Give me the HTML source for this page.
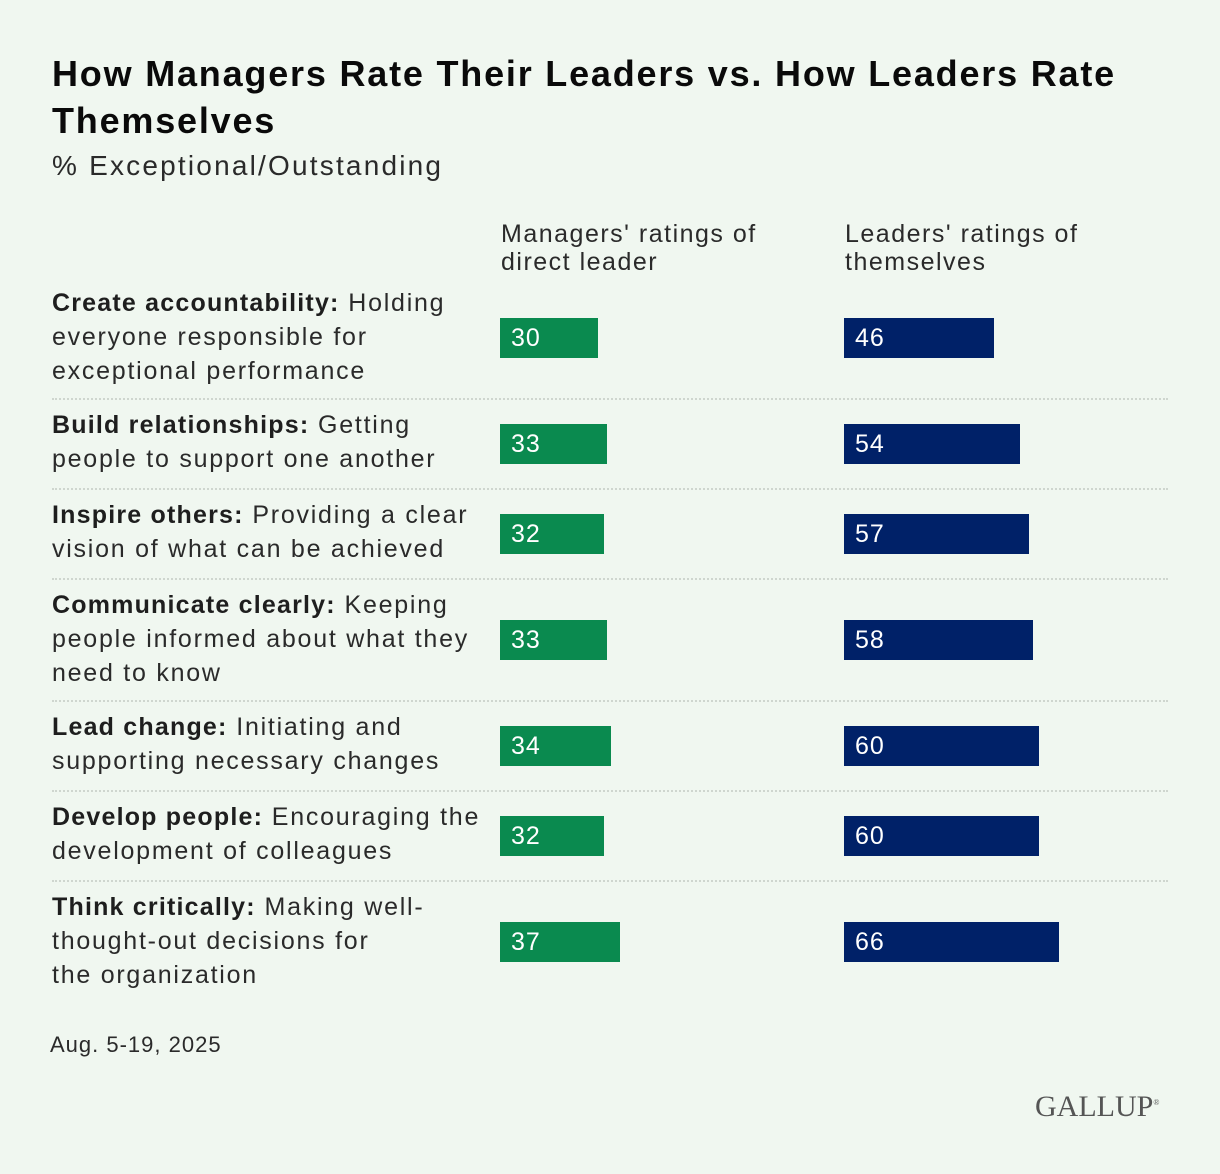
<!DOCTYPE html>
<html><head><meta charset="utf-8">
<style>
body{margin:0;background:#f0f7f0;}
#root{position:relative;width:1220px;height:1174px;background:#f0f7f0;font-family:"Liberation Sans",sans-serif;color:#222;overflow:hidden}
.t{position:absolute;white-space:nowrap}
#title{left:52px;top:50px;font-size:36px;letter-spacing:1.8px;font-weight:bold;line-height:47px;color:#0a0a0a}
#sub{left:52px;top:150px;font-size:28px;letter-spacing:2.2px;color:#2a2a2a}
.hdr{top:220px;font-size:25px;letter-spacing:1.5px;line-height:28px;color:#2a2a2a}
.lbl{left:52px;font-size:25px;letter-spacing:1.75px;line-height:34px;color:#2a2a2a}
.lbl b{color:#1e1e1e;letter-spacing:1.2px}
.sep{position:absolute;left:52px;width:1116px;border-top:2px dotted #cfd6cf;height:0}
.bar{position:absolute;height:40px}
.bar span{position:absolute;left:11px;top:6px;font-size:25px;letter-spacing:1px;color:#fff}
</style></head><body>
<div id="root">
<div class="t" id="title">How Managers Rate Their Leaders vs. How Leaders Rate<br>Themselves</div>
<div class="t" id="sub">% Exceptional/Outstanding</div>
<div class="t hdr" style="left:501px">Managers' ratings of<br>direct leader</div>
<div class="t hdr" style="left:845px">Leaders' ratings of<br>themselves</div>
<div class="t" style="left:50px;top:1032px;font-size:22px;letter-spacing:1px;color:#2a2a2a">Aug. 5-19, 2025</div>
<div class="t" style="left:1035px;top:1090px;font-family:'Liberation Serif',serif;font-size:30px;color:#555">GALLUP<sup style="font-size:8px">®</sup></div>
<div id="rows"></div>
</div>
<script>
const categories=["Create accountability","Build relationships","Inspire others","Communicate clearly","Lead change","Develop people","Think critically"];
const descriptions=[["Create accountability:"," Holding","everyone responsible for","exceptional performance"],["Build relationships:"," Getting","people to support one another"],["Inspire others:"," Providing a clear","vision of what can be achieved"],["Communicate clearly:"," Keeping","people informed about what they","need to know"],["Lead change:"," Initiating and","supporting necessary changes"],["Develop people:"," Encouraging the","development of colleagues"],["Think critically:"," Making well-","thought-out decisions for","the organization"]];
const managers=[30,33,32,33,34,32,37];
const leaders=[46,54,57,58,60,60,66];
const rowsEl=document.getElementById('rows');
const scale=v=>v*3.25;
const x0m=500,x0l=844;
let rowTop=286;
for(let i=0;i<categories.length;i++){
  const d=descriptions[i];
  const nLines=d.length-1;
  const lbl=document.createElement('div');
  lbl.className='t lbl';
  lbl.style.top=rowTop+'px';
  lbl.innerHTML='<b>'+d[0]+'</b>'+d[1]+(d.slice(2).map(s=>'<br>'+s).join(''));
  
  
  rowsEl.appendChild(lbl);
  const by=(nLines===3?rowTop+32:rowTop+16);
  [[managers[i],x0m,'#0a8a4f','manager-bar-'],[leaders[i],x0l,'#002168','leader-bar-']].forEach(([v,x,c,n])=>{
    const b=document.createElement('div');
    b.className='bar';
    b.style.left=x+'px';b.style.top=by+'px';b.style.width=scale(v)+'px';b.style.background=c;
    
    
    const s=document.createElement('span');s.textContent=v;
    
    
    b.appendChild(s);rowsEl.appendChild(b);
  });
  const nextTop=rowTop+(nLines===3?122:90);
  if(i<categories.length-1){
    const sp=document.createElement('div');sp.className='sep';
    sp.style.top=(nextTop-10)+'px';
    
    
    rowsEl.appendChild(sp);
  }
  rowTop=nextTop;
}
</script>
</body></html>
